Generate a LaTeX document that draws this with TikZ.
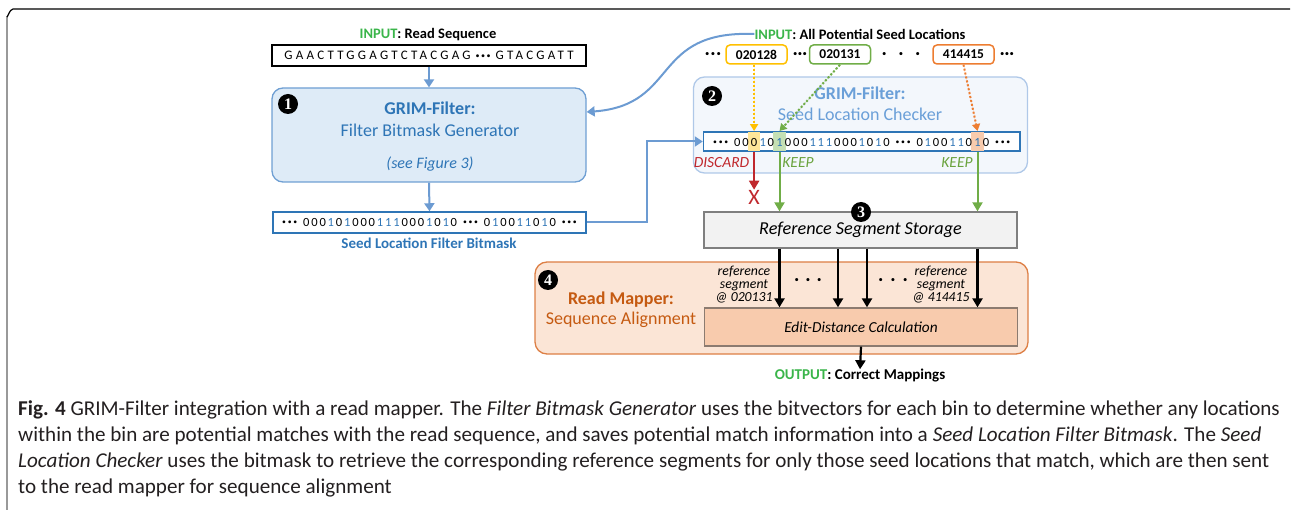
\documentclass[tikz,border=0pt]{standalone}
\usepackage{fontspec}
\setmainfont{Carlito}
\newfontfamily\numfont{Liberation Serif}
\usetikzlibrary{arrows.meta,fit}
\pgfdeclarelayer{bg}
\pgfdeclarelayer{mid}
\pgfsetlayers{bg,mid,main}
\definecolor{ingreen}{HTML}{3AB54A}
\definecolor{bmblue}{HTML}{2E75B6}
\definecolor{bonefill}{HTML}{DEEBF7}
\definecolor{bonedraw}{HTML}{6F9FD3}
\definecolor{conblue}{HTML}{6C9BD2}
\definecolor{btwofill}{HTML}{F3F7FC}
\definecolor{btwodraw}{HTML}{AFC8E8}
\definecolor{btwotext}{HTML}{6A9FD8}
\definecolor{yel}{HTML}{FFC000}
\definecolor{grn}{HTML}{70AD47}
\definecolor{org}{HTML}{ED7D31}
\definecolor{hly}{HTML}{FFE699}
\definecolor{hlg}{HTML}{C5E0B4}
\definecolor{hlo}{HTML}{F8CBAD}
\definecolor{dred}{HTML}{C0282D}
\definecolor{keepg}{HTML}{6AA33E}
\definecolor{stfill}{HTML}{F2F2F2}
\definecolor{stdraw}{HTML}{7F7F7F}
\definecolor{bfourfill}{HTML}{FBE5D6}
\definecolor{bfourdraw}{HTML}{DD7F45}
\definecolor{rmtext}{HTML}{C55A11}
\definecolor{edfill}{HTML}{F8CBAD}
\definecolor{eddraw}{HTML}{8C7B70}
\definecolor{captext}{HTML}{231F20}
\definecolor{framegray}{HTML}{999999}
\newcommand{\fsz}[1]{\fontsize{#1}{#1}\selectfont}
\newcommand{\bul}{\raisebox{1.6pt}{\scalebox{0.62}{\textbullet}}}
\newcommand{\tdots}[1][15pt]{\makebox[#1][s]{\bul\hfill\bul\hfill\bul}}
\newlength{\dgw}\setlength{\dgw}{8.2pt}
\makeatletter
\def\digs#1{\my@digs#1\@nil}
\def\my@digs#1{\ifx#1\@nil\else\makebox[\dgw]{\ifx1#1\color{bmblue}\fi#1}\expandafter\my@digs\fi}
\makeatother
\newcommand{\gap}{\hspace{5pt}}
\begin{document}
\begin{tikzpicture}[x=1pt,y=-1pt,
  lbl/.style={font=\bfseries\fsz{14.5}, inner sep=0pt},
  bits/.style={font=\fsz{12.5}, inner sep=0pt, text height=14pt, text depth=4pt, anchor=west},
  numc/.style={circle, fill=black, text=white, inner sep=0pt, minimum size=20pt, font=\numfont\bfseries\fsz{16}},
  barrow/.style={draw=conblue, line width=2pt, -{Triangle[width=10pt,length=8pt]}},
  karrow/.style={draw=black, line width=2.2pt, -{Triangle[width=10pt,length=9pt]}},
  darrow/.style={line width=2pt, dotted, -{Triangle[width=8pt,length=7pt]}},
  garrow/.style={draw=grn, line width=2pt, -{Triangle[width=10pt,length=9pt]}},
  seedbox/.style={draw, line width=1.5pt, rounded corners=4pt, fill=white, minimum width=61pt, minimum height=19pt, inner sep=0pt, font=\bfseries\fsz{13.5}},
  capline/.style={anchor=west, inner sep=0pt, text=captext, font=\fsz{21.1}},
  it/.style={font=\itshape\fsz{15.5}, inner sep=0pt},
  hl/.style={inner xsep=1.8pt, inner ysep=0pt}
]
\useasboundingbox (0,0) rectangle (1292,510);
% frame
\draw[framegray, line width=1.5pt] (7,510) -- (7,16);
\draw[black, line width=1.2pt] (7,16) to[out=-90,in=180] (13,9) -- (1290,9);

% ---- left column
\node[lbl] (inA) at (428,35) {{\color{ingreen}INPUT}: Read Sequence};
\node[draw, line width=1.2pt, minimum width=314pt, minimum height=21pt, inner sep=0pt, font=\fsz{13}] (readseq) at (429,55.5) {{\addfontfeature{LetterSpace=25}GAACTTGGAGTCTACGAG}\gap\tdots\gap{\addfontfeature{LetterSpace=25}GTACGATT}};
\node[draw=bonedraw, fill=bonefill, line width=1.3pt, rounded corners=11pt, minimum width=314pt, minimum height=94pt] (box1) at (429,135) {};
\node[numc] (n1) at (288,104) {1};
\node[font=\bfseries\fsz{18}, text=bmblue, inner sep=0pt] (t1a) at (430,108) {GRIM-Filter:};
\node[font=\fsz{18}, text=bmblue, inner sep=0pt] (t1b) at (430,130) {Filter Bitmask Generator};
\node[font=\itshape\fsz{16}, text=bmblue, inner sep=0pt] (t1c) at (430,164) {(see Figure 3)};
\node[draw=bmblue, line width=1.5pt, minimum width=313pt, minimum height=21pt, inner sep=0pt, font=\fsz{12.5}] (bm1) at (429.5,222.5) {\tdots\gap\digs{0001010001110001010}\gap\tdots\gap\digs{010011010}\gap\tdots};
\node[lbl, text=bmblue, font=\bfseries\fsz{15}] (lab1) at (429,243) {Seed Location Filter Bitmask};
\draw[barrow] (readseq.south) -- (box1.north);
\draw[barrow] (box1.south) -- (bm1.north);

% ---- seed locations
\node[lbl] (inB) at (860,34) {{\color{ingreen}INPUT}: All Potential Seed Locations};
\node[inner sep=0pt, font=\fsz{14}] (d1) at (713,55) {\tdots[16pt]};
\node[seedbox, draw=yel] (yb) at (756.5,54.5) {020128};
\node[inner sep=0pt, font=\fsz{14}] (d2) at (800,55) {\tdots[14pt]};
\node[seedbox, draw=grn] (gb) at (840,54.5) {020131};
\node[inner sep=0pt, font=\fsz{14}] (d3) at (901,55) {\tdots[38pt]};
\node[seedbox, draw=org] (ob) at (963.5,54.5) {414415};
\node[inner sep=0pt, font=\fsz{14}] (d4) at (1007,55) {\tdots[14pt]};

% ---- box 2 : bitmask with highlights
\node[bits] (ga) at (713,141.5) {\tdots\gap\digs{00}};
\node[bits] (gb1) at (ga.east) {\digs{0}};
\node[bits] (gc) at (gb1.east) {\digs{10}};
\node[bits] (gd) at (gc.east) {\digs{1}};
\node[bits] (ge) at (gd.east) {\digs{0001110001010}\gap\tdots\gap\digs{0100110}};
\node[bits] (gf) at (ge.east) {\digs{1}};
\node[bits] (gg) at (gf.east) {\digs{0}\gap\tdots};
\begin{pgfonlayer}{bg}
\node[draw=btwodraw, fill=btwofill, line width=1.3pt, rounded corners=11pt, minimum width=334pt, minimum height=96pt] (box2) at (860.5,125) {};
\node[draw=bmblue, fill=white, line width=1.5pt, inner xsep=9.5pt, inner ysep=0.5pt, fit=(ga)(gg)] (bm2) {};
\end{pgfonlayer}
\begin{pgfonlayer}{mid}
\node[hl, fill=hly, fit=(gb1)] (hy) {};
\node[hl, fill=hlg, fit=(gd)] (hg) {};
\node[hl, fill=hlo, fit=(gf)] (ho) {};
\end{pgfonlayer}
\node[numc] (n2) at (712,96) {2};
\node[font=\bfseries\fsz{18}, text=btwotext, inner sep=0pt] (t2a) at (860,93) {GRIM-Filter:};
\node[font=\fsz{18}, text=btwotext, inner sep=0pt] (t2b) at (860,114) {Seed Location Checker};
\draw[barrow] (bm1.east) -- ++(60,0) |- (bm2.west);
\draw[barrow] (inB.west) .. controls (650,30) and (680,105) .. ([yshift=23pt]box1.east);

\draw[darrow, draw=yel, fill=yel] (hy |- yb.south) -- (hy |- bm2.north);
\draw[darrow, draw=grn, fill=grn] (gb.south) -- (hg |- bm2.north);
\draw[darrow, draw=org, fill=org] (ob.south) -- (ho |- bm2.north);

\node[it, text=dred] (disc) at (721.5,163) {DISCARD};
\node[it, text=keepg] (keep1) at (798,163) {KEEP};
\node[it, text=keepg] (keep2) at (957,163) {KEEP};
\node[inner sep=0pt, text=dred, font=\fsz{22}] (xmark) at (hy |- 0,197) {X};

% ---- storage
\node[draw=stdraw, fill=stfill, line width=1.3pt, minimum width=313pt, minimum height=36pt, inner sep=0pt, font=\itshape\fsz{18.2}] (storage) at (860.5,230) {Reference Segment Storage};
\node[numc] (n3) at (861,212) {3};
\draw[draw=dred, line width=2pt, -{Triangle[width=10pt,length=9pt]}] (hy |- bm2.south) -- (xmark.north);
\draw[garrow] (hg |- bm2.south) -- (hg |- storage.north);
\draw[garrow] (ho |- bm2.south) -- (ho |- storage.north);

% ---- box 4
\node[draw=bfourdraw, fill=bfourfill, line width=1.3pt, rounded corners=12pt, minimum width=493pt, minimum height=92pt] (box4) at (781.5,308) {};
\node[numc] (n4) at (548,280) {4};
\node[font=\bfseries\fsz{18}, text=rmtext, inner sep=0pt] (rm1) at (621,300) {Read Mapper:};
\node[font=\fsz{18}, text=rmtext, inner sep=0pt] (rm2) at (621,320) {Sequence Alignment};
\node[draw=eddraw, fill=edfill, line width=1.3pt, minimum width=313pt, minimum height=38pt, inner sep=0pt, font=\itshape\fsz{15.3}] (edit) at (861,327) {Edit-Distance Calculation};
\node[align=center, inner sep=0pt, font=\itshape\fontsize{13.8}{13}\selectfont] (ref1) at (744,285) {reference\\segment\\@ 020131};
\node[align=center, inner sep=0pt, font=\itshape\fontsize{13.8}{13}\selectfont] (ref2) at (941,285) {reference\\segment\\@ 414415};
\node[inner sep=0pt, font=\fsz{14}] (dots1) at (808,281) {\tdots[27pt]};
\node[inner sep=0pt, font=\fsz{14}] (dots2) at (893,281) {\tdots[29pt]};
\draw[karrow] (hg |- storage.south) -- (hg |- edit.north);
\draw[karrow] (storage.south -| 838,0) -- (edit.north -| 838,0);
\draw[karrow] (storage.south -| 867,0) -- (edit.north -| 867,0);
\draw[karrow] (ho |- storage.south) -- (ho |- edit.north);
\node[lbl, font=\bfseries\fsz{15}] (out) at (860,376) {{\color{ingreen}OUTPUT}: Correct Mappings};
\draw[karrow] (edit.south) -- (out.north);

% ---- caption
\node[capline] (c1) at (18,410) {\textbf{Fig. 4} GRIM-Filter integration with a read mapper. The \textit{Filter Bitmask Generator} uses the bitvectors for each bin to determine whether any locations};
\node[capline] (c2) at (18,436) {within the bin are potential matches with the read sequence, and saves potential match information into a \textit{Seed Location Filter Bitmask}. The \textit{Seed}};
\node[capline] (c3) at (18,462) {\textit{Location Checker} uses the bitmask to retrieve the corresponding reference segments for only those seed locations that match, which are then sent};
\node[capline] (c4) at (18,488) {to the read mapper for sequence alignment};
\end{tikzpicture}
\end{document}
